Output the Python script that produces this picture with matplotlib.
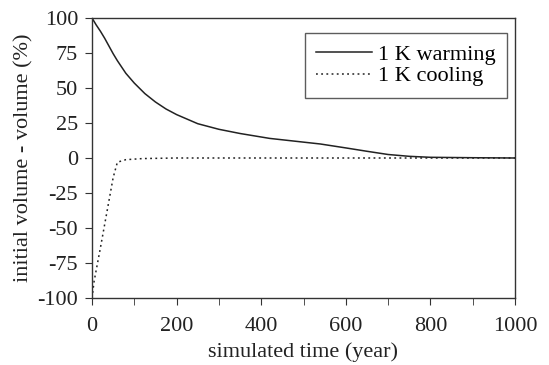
import matplotlib
matplotlib.use("Agg")
import matplotlib.pyplot as plt
from matplotlib.ticker import MultipleLocator

plt.rcParams['font.family'] = ['Liberation Serif', 'DejaVu Serif']
plt.rcParams['axes.unicode_minus'] = False

# Data
warm_years = [0, 10, 20, 30, 40, 50, 60, 80, 100, 125, 150, 175, 200, 250, 300, 350, 420, 480, 540, 600, 650, 700, 750, 800, 900, 1000]
warm_vals = [100, 95, 90.5, 85.5, 80, 74.5, 69.5, 60.5, 53.5, 46, 40, 35, 31, 24.5, 20.5, 17.5, 14, 12, 10, 7.2, 4.8, 2.5, 1.2, 0.5, 0.2, 0]

cool_years = [0, 5, 20, 35, 50, 60, 80, 120, 200, 400, 600, 800, 1000]
cool_vals = [-100, -88, -64, -39, -14, -3, -1.2, -0.4, 0, 0, 0, 0, 0]

xlabel = "simulated time (year)"
ylabel = "initial volume - volume (%)"
labels = ["1 K warming", "1 K cooling"]

fig = plt.figure(figsize=(5.49, 3.65), dpi=100)
ax = fig.add_axes([92/549, 1-298/365, (515-92)/549, (298-18)/365])

ax.plot(warm_years, warm_vals, color='#222222', lw=1.1, label=labels[0])
ax.plot(cool_years, cool_vals, color='#222222', lw=1.1, linestyle=(0, (1.2, 2.2)), label=labels[1])

ax.set_xlim(0, 1000)
ax.set_ylim(-100, 100)
ax.xaxis.set_major_locator(MultipleLocator(200))
ax.xaxis.set_minor_locator(MultipleLocator(100))
ax.yaxis.set_major_locator(MultipleLocator(25))
ax.tick_params(axis='both', which='both', direction='out', labelsize=16, color='#333333', labelcolor='#222222')
ax.tick_params(which='major', length=5)
ax.tick_params(which='minor', length=5)
ax.tick_params(axis='x', pad=9)
ax.tick_params(axis='y', pad=5)
for s in ax.spines.values():
    s.set_color('#333333')
    s.set_linewidth(1.0)

ax.set_xlabel(xlabel, fontsize=16, color='#222222', labelpad=4)
ax.set_ylabel(ylabel, fontsize=16, color='#222222', labelpad=3)

leg = ax.legend(loc='upper right', fontsize=16, frameon=True, fancybox=False,
                edgecolor='#333333', handlelength=2.5, handletextpad=0.3,
                borderpad=0.5, labelspacing=0.05, borderaxespad=0,
                bbox_to_anchor=(0.981, 0.946))
leg.get_frame().set_linewidth(1.0)

fig.savefig("out.png", dpi=100)
